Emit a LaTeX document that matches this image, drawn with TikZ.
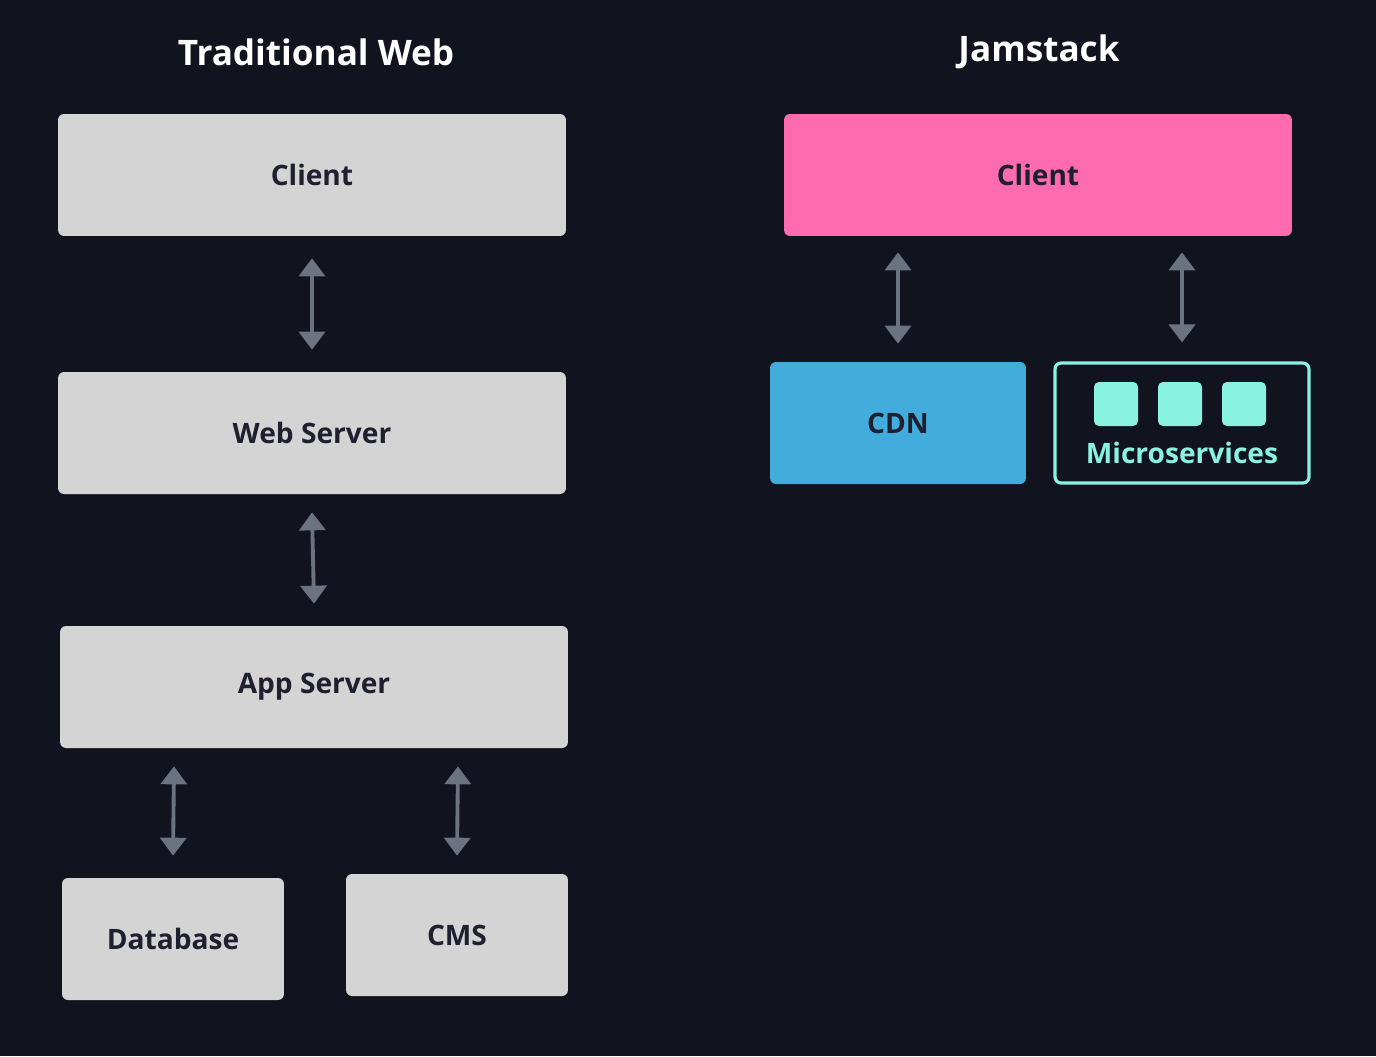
\documentclass[tikz,border=0pt]{standalone}
\usepackage{fontspec}
\setmainfont{Open Sans}
\usetikzlibrary{arrows.meta}
\definecolor{bgdark}{HTML}{11141F}
\definecolor{boxgray}{HTML}{D4D4D4}
\definecolor{inkdark}{HTML}{1E2030}
\definecolor{pinkbox}{HTML}{FF6BB0}
\definecolor{bluebox}{HTML}{42ACDC}
\definecolor{tealbox}{HTML}{8AF2E0}
\definecolor{arrowgray}{HTML}{6B7280}
\begin{document}
\begin{tikzpicture}[x=0.02cm,y=-0.02cm,
  box/.style={rounded corners=0.12cm,fill=boxgray,text=inkdark,font=\bfseries\fontsize{16}{18}\selectfont,
    minimum height=2.44cm,inner sep=0pt},
  wide/.style={box,minimum width=10.16cm},
  small/.style={box,minimum width=4.44cm},
  title/.style={text=white,font=\bfseries\fontsize{20}{24}\selectfont},
  link/.style={arrowgray,line width=2.2pt,{Triangle[width=0.52cm,length=0.36cm]}-{Triangle[width=0.52cm,length=0.36cm]}},
  cube/.style={rounded corners=0.1cm,fill=tealbox,minimum size=0.88cm,inner sep=0pt}]
\fill[bgdark] (0,0) rectangle (1376,1056);

% traditional web
\node[title] (tw) at (316,52) {Traditional Web};
\node[wide] (client) at (312,175) {Client};
\node[wide] (web) at (312,433) {Web Server};
\node[wide] (app) at (314,687) {App Server};
\node[small] (db) at (173,939) {Database};
\node[small] (cms) at (457,935) {CMS};
\draw[link] ([yshift=-0.44cm]client.south) -- ([yshift=0.44cm]web.north);
\draw[link] ([yshift=-0.36cm]web.south) -- ([yshift=0.44cm]app.north);
\draw[link] ([xshift=-2.8cm,yshift=-0.36cm]app.south) -- ([yshift=0.44cm]db.north);
\draw[link] ([xshift=2.88cm,yshift=-0.36cm]app.south) -- ([yshift=0.36cm]cms.north);

% jamstack
\node[title] (js) at (1039,52) {Jamstack};
\node[wide,fill=pinkbox] (jclient) at (1038,175) {Client};
\node[box,fill=bluebox,minimum width=5.12cm] (cdn) at (898,423) {CDN};
\node[box,fill=none,draw=tealbox,line width=1.8pt,minimum width=5.08cm,minimum height=2.4cm] (micro) at (1182,423) {};
\node[text=tealbox,font=\bfseries\fontsize{16}{18}\selectfont] (mtext) at (1182,453) {Microservices};
\node[cube] (m1) at (1116,404) {};
\node[cube] (m2) at (1180,404) {};
\node[cube] (m3) at (1244,404) {};
\coordinate (jtop) at ([yshift=-0.32cm]jclient.south);
\draw[link] ([xshift=-2.8cm]jtop) -- ([yshift=0.36cm]cdn.north);
\draw[link] (micro.north |- jtop) -- ([yshift=0.38cm]micro.north);
\end{tikzpicture}
\end{document}
